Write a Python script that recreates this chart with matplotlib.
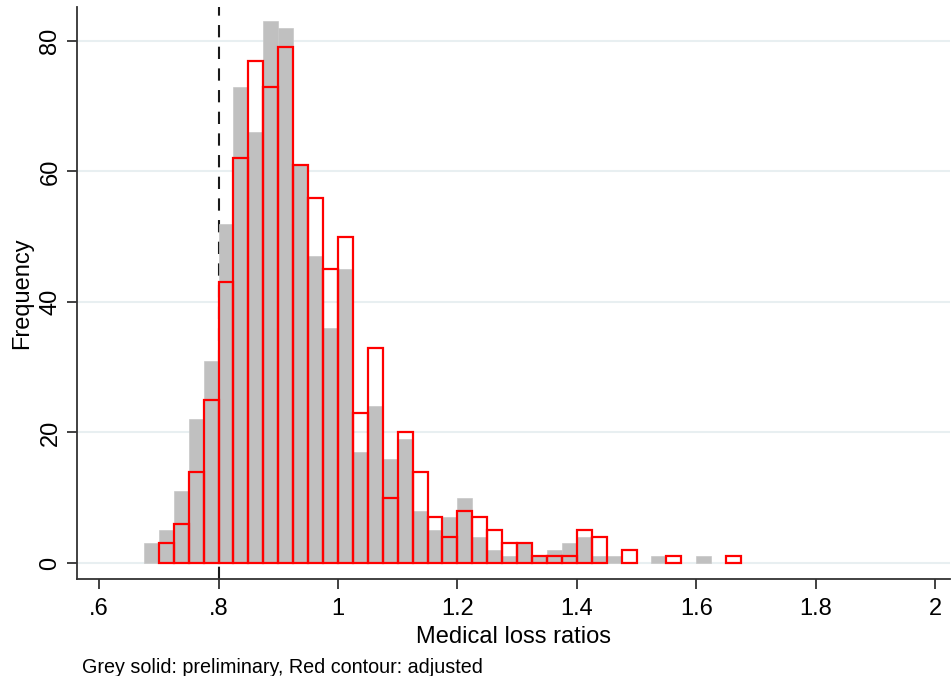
import numpy as np
import matplotlib
matplotlib.use("Agg")
import matplotlib.pyplot as plt

plt.rcParams['font.family'] = ['Liberation Sans', 'DejaVu Sans']

# histogram counts, bins of width .025 starting at .675
bin_start = 0.675
bin_width = 0.025
grey_counts = [3, 5, 11, 22, 31, 52, 73, 66, 83, 82,
               61, 47, 36, 45, 17, 24, 16, 19, 8, 5,
               7, 10, 4, 2, 1, 3, 1, 2, 3, 4,
               1, 1, 0, 0, 1, 0, 0, 1, 0, 0]
red_counts = [0, 3, 6, 14, 25, 43, 62, 77, 73, 79,
              61, 56, 45, 50, 23, 33, 10, 20, 14, 7,
              4, 8, 7, 5, 3, 3, 1, 1, 1, 5,
              4, 0, 2, 0, 0, 1, 0, 0, 0, 1]
x_ticks = [0.6, 0.8, 1.0, 1.2, 1.4, 1.6, 1.8, 2.0]
x_ticklabels = [".6", ".8", "1", "1.2", "1.4", "1.6", "1.8", "2"]
y_ticks = [0, 20, 40, 60, 80]
cutoff = 0.8

lefts = bin_start + bin_width * np.arange(len(grey_counts))
grey = np.array(grey_counts)
red = np.array(red_counts)

fig = plt.figure(figsize=(9.53, 6.76), dpi=100)
ax = fig.add_axes([0.0808, 0.1435, 0.9161, 0.8461])

for y in y_ticks:
    ax.axhline(y, color='#e8eff1', lw=1.5, zorder=0)

ax.axvline(cutoff, color='#1a1a1a', lw=1.5, ls=(0, (5.9, 4.5)), zorder=1)

g = grey > 0
ax.bar(lefts[g], grey[g], width=bin_width, align='edge',
       color='#c0c0c0', edgecolor='#c8c8c8', lw=0.5, zorder=2)
r = red > 0
ax.bar(lefts[r], red[r], width=bin_width, align='edge',
       facecolor='none', edgecolor='#ff0000', lw=1.6, zorder=3)

ax.set_xlim(0.563, 2.025)
ax.set_ylim(-2.45, 85.2)
ax.set_xticks(x_ticks)
ax.set_xticklabels(x_ticklabels)
ax.set_yticks(y_ticks)
ax.set_yticklabels([str(v) for v in y_ticks], rotation=90, va='center')

for s in ['top', 'right']:
    ax.spines[s].set_visible(False)
for s in ['left', 'bottom']:
    ax.spines[s].set_color('#333333')
    ax.spines[s].set_linewidth(1.3)
ax.tick_params(axis='both', direction='out', length=7.2, width=1.3,
               color='#333333', labelsize=17)
ax.tick_params(axis='x', pad=6.5)
ax.tick_params(axis='y', pad=4)

ax.set_xlabel("Medical loss ratios", fontsize=17, labelpad=4)
ax.set_ylabel("Frequency", fontsize=17, labelpad=4.5)

fig.text(82 / 953, 1 - 673 / 676, "Grey solid: preliminary, Red contour: adjusted",
         fontsize=14.2, va='baseline', ha='left')

fig.savefig("out.png", dpi=100)
